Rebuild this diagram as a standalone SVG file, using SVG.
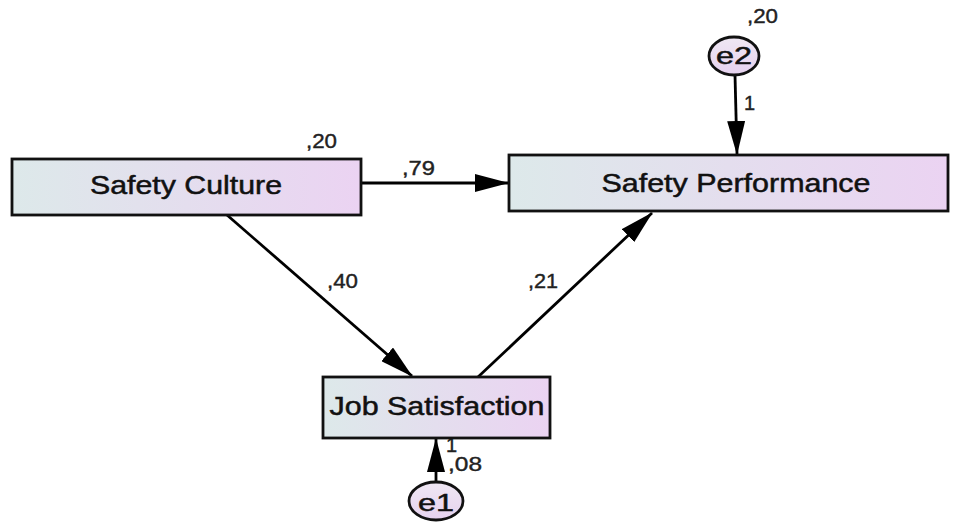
<svg xmlns="http://www.w3.org/2000/svg" width="956" height="525" viewBox="0 0 956 525">
<defs>
<linearGradient id="boxg" x1="0" y1="0" x2="1" y2="0">
<stop offset="0" stop-color="#dde9ea"/>
<stop offset="1" stop-color="#ebd3f2"/>
</linearGradient>
<linearGradient id="circg" x1="0" y1="0" x2="0" y2="1">
<stop offset="0" stop-color="#efe7f3"/>
<stop offset="1" stop-color="#e6d2ef"/>
</linearGradient>
<marker id="ah" markerUnits="userSpaceOnUse" markerWidth="34" markerHeight="18" refX="33" refY="9" orient="auto">
<path d="M0,0 L34,9 L0,18 z" fill="#000"/>
</marker>
</defs>
<style>
.box{fill:url(#boxg);stroke:#111;stroke-width:2.8}
.circ{fill:url(#circg);stroke:#111;stroke-width:2.8}
.main{font-family:"Liberation Sans",Arial,sans-serif;font-size:26px;fill:#111;stroke:#111;stroke-width:0.5;text-anchor:middle}
.ev{font-size:24px}
.lbl{font-family:"Liberation Sans",Arial,sans-serif;font-size:20px;fill:#222;stroke:#222;stroke-width:0.4}
.conn line{stroke:#000;stroke-width:2.8;marker-end:url(#ah)}
</style>
<rect width="956" height="525" fill="#fff"/>
<g id="connectors" class="conn">
<line x1="361" y1="183" x2="508" y2="183"/>
<line x1="227" y1="215" x2="412" y2="376"/>
<line x1="478" y1="377" x2="652" y2="213"/>
<line x1="735" y1="75" x2="737" y2="154"/>
<line x1="436" y1="482" x2="436" y2="439"/>
</g>
<g id="labels">
<text class="lbl" x="306" y="148" textLength="31" lengthAdjust="spacingAndGlyphs">,20</text>
<text class="lbl" x="402" y="175" textLength="33" lengthAdjust="spacingAndGlyphs">,79</text>
<text class="lbl" x="327" y="288" textLength="31" lengthAdjust="spacingAndGlyphs">,40</text>
<text class="lbl" x="528" y="288" textLength="30" lengthAdjust="spacingAndGlyphs">,21</text>
<text class="lbl" x="747" y="23" textLength="31" lengthAdjust="spacingAndGlyphs">,20</text>
<text class="lbl" x="744" y="110">1</text>
<text class="lbl" x="446" y="452">1</text>
<text class="lbl" x="448" y="471" textLength="34" lengthAdjust="spacingAndGlyphs">,08</text>
</g>
<g id="safety-culture">
<rect class="box" x="12" y="159" width="349" height="56"/>
<text class="main" x="186" y="194" textLength="192" lengthAdjust="spacingAndGlyphs">Safety Culture</text>
</g>
<g id="safety-performance">
<rect class="box" x="509" y="155" width="439" height="56"/>
<text class="main" x="736" y="192" textLength="269" lengthAdjust="spacingAndGlyphs">Safety Performance</text>
</g>
<g id="job-satisfaction">
<rect class="box" x="323" y="377" width="227" height="61"/>
<text class="main" x="437" y="415" textLength="215" lengthAdjust="spacingAndGlyphs">Job Satisfaction</text>
</g>
<g id="e2">
<ellipse class="circ" cx="734" cy="56" rx="25" ry="19"/>
<text class="main ev" x="734" y="64" textLength="36" lengthAdjust="spacingAndGlyphs">e2</text>
</g>
<g id="e1">
<ellipse class="circ" cx="436" cy="501" rx="27" ry="19"/>
<text class="main ev" x="436" y="511" textLength="36" lengthAdjust="spacingAndGlyphs">e1</text>
</g>
</svg>
